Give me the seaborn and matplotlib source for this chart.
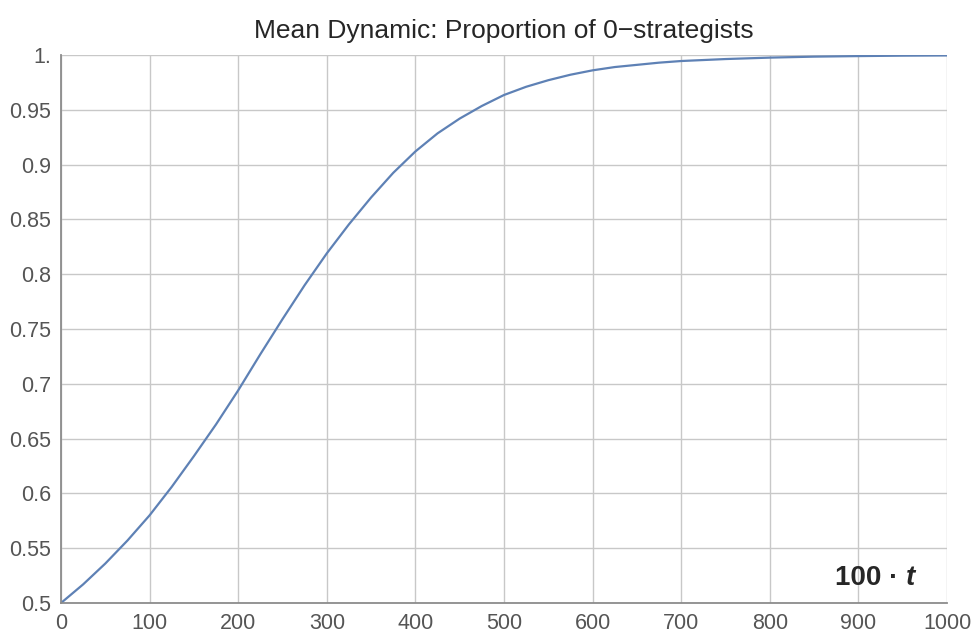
import pandas as pd
import matplotlib
matplotlib.use("Agg")
import matplotlib.pyplot as plt
import seaborn as sns

# Valores
t_vals = [0, 25, 50, 75, 100, 125, 150, 175, 200, 225, 250, 275, 300, 325, 350,
          375, 400, 425, 450, 475, 500, 525, 550, 575, 600, 625, 650, 675, 700,
          750, 800, 850, 900, 950, 1000]
prop_vals = [0.500, 0.517, 0.536, 0.557, 0.580, 0.606, 0.634, 0.663, 0.694, 0.727,
             0.759, 0.790, 0.819, 0.8455, 0.870, 0.8925, 0.912, 0.9285, 0.942, 0.9535,
             0.9635, 0.971, 0.977, 0.982, 0.986, 0.989, 0.991, 0.993, 0.9945,
             0.9963, 0.9976, 0.9985, 0.9990, 0.9994, 0.9996]

x_ticks = [0, 100, 200, 300, 400, 500, 600, 700, 800, 900, 1000]
y_ticks = [0.5, 0.55, 0.6, 0.65, 0.7, 0.75, 0.8, 0.85, 0.9, 0.95, 1.0]
y_tick_labels = ["0.5", "0.55", "0.6", "0.65", "0.7", "0.75", "0.8", "0.85", "0.9", "0.95", "1."]

df = pd.DataFrame({"t": t_vals, "p": prop_vals})

sns.set_style("white")
plt.rcParams["font.family"] = ["Liberation Sans", "DejaVu Sans"]

fig = plt.figure(figsize=(9.76, 6.35), dpi=100)
ax = fig.add_axes([0.0625, 0.0504, 0.9078, 0.863])

sns.lineplot(data=df, x="t", y="p", ax=ax, color="#5E81B5", linewidth=1.6)

ax.set_xlim(0, 1000)
ax.set_ylim(0.5, 1.0)
ax.set_xticks(x_ticks)
ax.set_yticks(y_ticks)
ax.set_yticklabels(y_tick_labels)
ax.grid(True, color="#c8c8c8", linewidth=1.0)
ax.set_axisbelow(True)

for s in ["top", "right"]:
    ax.spines[s].set_visible(False)
for s in ["left", "bottom"]:
    ax.spines[s].set_color("#8c8c8c")
    ax.spines[s].set_linewidth(1.3)

ax.tick_params(direction="in", length=5, width=1.2, color="#8c8c8c",
               labelcolor="#555555", labelsize=15.5)
ax.tick_params(axis="x", pad=7)
ax.tick_params(axis="y", pad=7)
ax.set_xlabel("")
ax.set_ylabel("")
ax.set_title("Mean Dynamic: Proportion of 0\u2212strategists", fontsize=19, pad=12)

ax.text(0.954, 0.032, "100 \u00b7 ", transform=ax.transAxes, ha="right", va="baseline",
        fontsize=20, fontweight="bold")
ax.text(0.954, 0.032, "t", transform=ax.transAxes, ha="left", va="baseline",
        fontsize=20, fontweight="bold", fontstyle="italic")

fig.savefig("out.png", dpi=100)
